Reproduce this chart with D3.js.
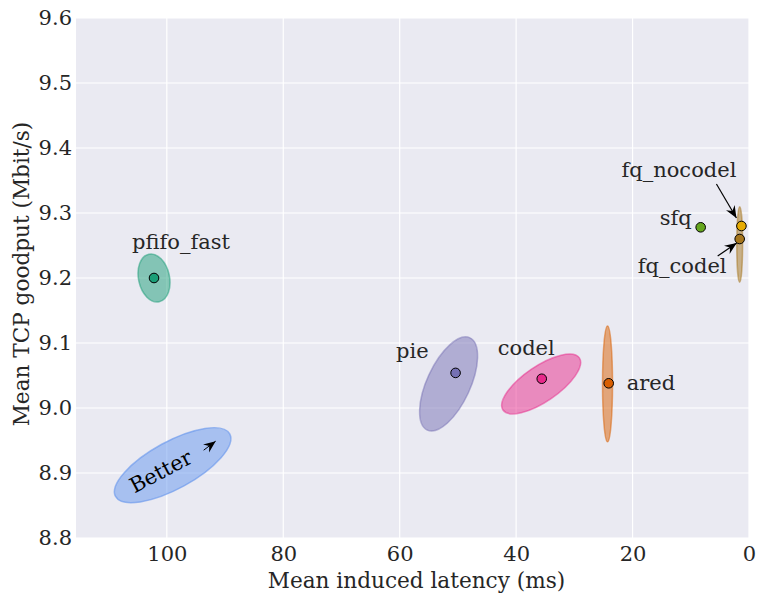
<!DOCTYPE html>
<html>
<head>
<meta charset="utf-8">
<script src="https://cdn.jsdelivr.net/npm/d3@7"></script>
<style>
    body { margin: 0; background: #ffffff; }
    text { font-family: "DejaVu Serif", serif; fill: #262626; }
</style>
</head>
<body>
<div id="vis"></div>
<script>

// qdisc results: mean latency (ms) and mean goodput (Mbit/s)
var qdiscs = ['pfifo_fast', 'pie', 'codel', 'ared', 'sfq', 'fq_nocodel', 'fq_codel'];
var latency = [102.2, 50.4, 35.6, 24.1, 8.3, 1.3, 1.6];
var goodput = [9.200, 9.054, 9.045, 9.038, 9.278, 9.280, 9.260];

// spread of each run (ellipse centre, std dev of latency / goodput, correlation)
var spreadLatency = [102.2, 51.6, 35.7, 24.3, 8.3, 1.3, 1.6];
var spreadGoodput = [9.200, 9.037, 9.037, 9.037, 9.278, 9.280, 9.2515];
var sdLatency = [2.75, 4.98, 6.78, 0.86, 0.3, 0.3, 0.5];
var sdGoodput = [0.037, 0.0723, 0.046, 0.089, 0.004, 0.004, 0.058];
var correlation = [0.19, -0.59, -0.72, 0.0, 0.0, 0.0, 0.0];

var xTicks = [100, 80, 60, 40, 20, 0];
var yTicks = [8.8, 8.9, 9.0, 9.1, 9.2, 9.3, 9.4, 9.5, 9.6];

var width = 757;
var height = 595;
var plot = {left: 76, top: 18, right: 749, bottom: 538};
var fontSize = 21;
var axisFontSize = 21.6;

var colorOrder = ['pfifo_fast', 'ared', 'pie', 'codel', 'sfq', 'fq_nocodel', 'fq_codel'];
var fillColor = d3.scaleOrdinal(d3.schemeDark2).domain(colorOrder);

// label placement relative to the point, in pixels
var labelPlace = {
    pfifo_fast: {dx: 27, dy: -29, anchor: 'middle'},
    pie: {dx: -27, dy: -15, anchor: 'end'},
    codel: {dx: -15.5, dy: -24, anchor: 'middle'},
    ared: {dx: 18, dy: 7, anchor: 'start'},
    sfq: {dx: -9, dy: -2, anchor: 'end'},
    fq_nocodel: {dx: -62.5, dy: -49, anchor: 'middle', arrow: [-25, -42, -5, -8]},
    fq_codel: {dx: -57.5, dy: 34, anchor: 'middle', arrow: [-22, 17, -3, 4]}
};

var x = d3.scaleLinear().domain([115.6, 0]).range([plot.left, plot.right]);
var y = d3.scaleLinear().domain([8.8, 9.6]).range([plot.bottom, plot.top]);

var svg = d3.select('#vis').append('svg')
    .attr('width', width)
    .attr('height', height);

var defs = svg.append('defs');
defs.append('marker')
    .attr('id', 'head')
    .attr('viewBox', '-12 -6 14 12')
    .attr('markerWidth', 14)
    .attr('markerHeight', 12)
    .attr('markerUnits', 'userSpaceOnUse')
    .attr('refX', 0)
    .attr('refY', 0)
    .attr('orient', 'auto')
    .append('path')
    .attr('d', 'M0,0 L-12,-5 L-8,0 L-12,5 Z')
    .attr('fill', '#000');

svg.append('rect')
    .attr('x', plot.left)
    .attr('y', plot.top)
    .attr('width', plot.right - plot.left)
    .attr('height', plot.bottom - plot.top)
    .attr('fill', '#eaeaf2');

svg.append('g').selectAll('line')
    .data(xTicks)
    .enter().append('line')
    .attr('x1', function (d) { return x(d); })
    .attr('x2', function (d) { return x(d); })
    .attr('y1', plot.top)
    .attr('y2', plot.bottom)
    .attr('stroke', '#ffffff')
    .attr('stroke-width', 1.2);

svg.append('g').selectAll('line')
    .data(yTicks)
    .enter().append('line')
    .attr('x1', plot.left)
    .attr('x2', plot.right)
    .attr('y1', function (d) { return y(d); })
    .attr('y2', function (d) { return y(d); })
    .attr('stroke', '#ffffff')
    .attr('stroke-width', 1.2);

var xAxis = svg.append('g')
    .attr('transform', 'translate(0,' + plot.bottom + ')')
    .call(d3.axisBottom(x).tickValues(xTicks).tickSize(0).tickPadding(8).tickFormat(d3.format('d')));
var yAxis = svg.append('g')
    .attr('transform', 'translate(' + plot.left + ',0)')
    .call(d3.axisLeft(y).tickValues(yTicks).tickSize(0).tickPadding(4).tickFormat(d3.format('.1f')));
[xAxis, yAxis].forEach(function (a) {
    a.select('.domain').remove();
    a.selectAll('text')
        .style('font-family', '"DejaVu Serif", serif')
        .style('font-size', fontSize + 'px')
        .attr('fill', '#262626');
});

svg.append('text')
    .attr('x', 416.5)
    .attr('y', 588)
    .attr('text-anchor', 'middle')
    .style('font-size', axisFontSize + 'px')
    .text('Mean induced latency (ms)');

svg.append('text')
    .attr('transform', 'translate(29,274) rotate(-90)')
    .attr('text-anchor', 'middle')
    .style('font-size', axisFontSize + 'px')
    .text('Mean TCP goodput (Mbit/s)');

// ellipse from std devs + correlation, worked out in pixel space
function ellipseShape(cLat, cTput, sLat, sTput, rho) {
    var kx = x(1) - x(0);
    var ky = y(1) - y(0);
    var sxx = Math.pow(sLat * kx, 2);
    var syy = Math.pow(sTput * ky, 2);
    var sxy = rho * sLat * kx * sTput * ky;
    var mid = (sxx + syy) / 2;
    var diff = Math.sqrt(Math.pow((sxx - syy) / 2, 2) + sxy * sxy);
    var angle = 0.5 * Math.atan2(2 * sxy, sxx - syy) * 180 / Math.PI;
    return {
        cx: x(cLat), cy: y(cTput),
        rx: Math.sqrt(mid + diff), ry: Math.sqrt(Math.max(mid - diff, 0.01)),
        angle: angle
    };
}

var nodes = qdiscs.map(function (q, i) {
    return {
        name: q,
        lat: latency[i],
        tput: goodput[i],
        shape: ellipseShape(spreadLatency[i], spreadGoodput[i], sdLatency[i], sdGoodput[i], correlation[i])
    };
});

// "Better" hint ellipse
var better = ellipseShape(99.0, 8.912, 10.0, 0.0577, -0.71);
svg.append('ellipse')
    .attr('transform', 'translate(' + better.cx + ',' + better.cy + ') rotate(' + better.angle + ')')
    .attr('rx', better.rx)
    .attr('ry', better.ry)
    .attr('fill', 'cornflowerblue')
    .attr('fill-opacity', 0.5)
    .attr('stroke', 'cornflowerblue')
    .attr('stroke-opacity', 0.6)
    .attr('stroke-width', 1.5);

svg.append('text')
    .attr('transform', 'translate(' + (better.cx - 12) + ',' + (better.cy + 6) + ') rotate(-28)')
    .attr('text-anchor', 'middle')
    .attr('dy', '0.35em')
    .style('font-size', fontSize + 'px')
    .style('fill', '#000')
    .text('Better');

svg.append('line')
    .attr('x1', better.cx + 31)
    .attr('y1', better.cy - 15)
    .attr('x2', better.cx + 43)
    .attr('y2', better.cy - 24)
    .attr('stroke', '#000')
    .attr('stroke-width', 1)
    .attr('marker-end', 'url(#head)');

svg.append('g').selectAll('ellipse')
    .data(nodes)
    .enter().append('ellipse')
    .attr('transform', function (d) {
        return 'translate(' + d.shape.cx + ',' + d.shape.cy + ') rotate(' + d.shape.angle + ')';
    })
    .attr('rx', function (d) { return d.shape.rx; })
    .attr('ry', function (d) { return d.shape.ry; })
    .attr('fill', function (d) { return fillColor(d.name); })
    .attr('fill-opacity', 0.5)
    .attr('stroke', function (d) { return fillColor(d.name); })
    .attr('stroke-opacity', 0.5)
    .attr('stroke-width', 1.5);

svg.append('g').selectAll('circle')
    .data(nodes)
    .enter().append('circle')
    .attr('cx', function (d) { return x(d.lat); })
    .attr('cy', function (d) { return y(d.tput); })
    .attr('r', 4.8)
    .attr('fill', function (d) { return fillColor(d.name); })
    .attr('stroke', '#000')
    .attr('stroke-width', 1);

svg.append('g').selectAll('text')
    .data(nodes)
    .enter().append('text')
    .attr('x', function (d) { return x(d.lat) + labelPlace[d.name].dx; })
    .attr('y', function (d) { return y(d.tput) + labelPlace[d.name].dy; })
    .attr('text-anchor', function (d) { return labelPlace[d.name].anchor; })
    .style('font-size', fontSize + 'px')
    .text(function (d) { return d.name; });

svg.append('g').selectAll('line')
    .data(nodes.filter(function (d) { return labelPlace[d.name].arrow; }))
    .enter().append('line')
    .attr('x1', function (d) { return x(d.lat) + labelPlace[d.name].arrow[0]; })
    .attr('y1', function (d) { return y(d.tput) + labelPlace[d.name].arrow[1]; })
    .attr('x2', function (d) { return x(d.lat) + labelPlace[d.name].arrow[2]; })
    .attr('y2', function (d) { return y(d.tput) + labelPlace[d.name].arrow[3]; })
    .attr('stroke', '#000')
    .attr('stroke-width', 1.2)
    .attr('marker-end', 'url(#head)');

</script>
</body>
</html>
